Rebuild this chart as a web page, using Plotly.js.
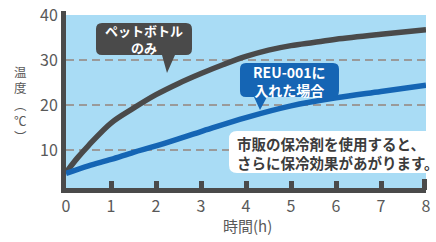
<!DOCTYPE html>
<html>
<head>
<meta charset="utf-8">
<script src="https://cdn.plot.ly/plotly-3.0.1.min.js"></script>
<style>html,body{margin:0;padding:0;background:#fff;}</style>
</head>
<body>
<div id="chart" style="width:436px;height:242px;"></div>
<script>
// ---- data ----
var hoursBottle = [0, 0.25, 0.5, 1, 1.5, 2, 2.5, 3, 3.5, 4, 4.5, 5, 5.5, 6, 7, 8];
var tempBottle  = [5, 8.2, 11, 16, 19.3, 22.3, 24.8, 27, 29, 30.8, 32.2, 33.2, 33.9, 34.6, 35.7, 36.7];
var hoursReu = [0, 0.5, 1, 1.5, 2, 3, 4, 5, 6, 7, 8];
var tempReu  = [4.8, 6.5, 7.9, 9.5, 10.9, 14.1, 17.2, 19.8, 21.6, 23, 24.4];
var xTicks = [0, 1, 2, 3, 4, 5, 6, 7, 8];
var yTicks = [10, 20, 30, 40];
var labelBottle = ['ペットボトル', 'のみ'];
var labelReu = ['REU-001に', '入れた場合'];
var noteLines = ['市販の保冷剤を使用すると、', 'さらに保冷効果があがります。'];
var yTitleChars = ['温', '度', '︵', '℃', '︶'];
var xTitle = '時間(h)';

// ---- layout helpers (pixel -> paper) ----
var L = 66, R = 10, T = 15, B = 54, W = 436, H = 242;
var PW = W - L - R, PH = H - T - B;
function px(x){ return (x - L) / PW; }
function py(y){ return (H - B - y) / PH; }
function P(x, y){ return px(x).toFixed(5) + ',' + py(y).toFixed(5); }
function callout(x0, y0, x1, y1, r, tx0, tx1, tipx, tipy){
  return 'M' + P(x0 + r, y0) + ' L' + P(x1 - r, y0) + ' Q' + P(x1, y0) + ' ' + P(x1, y0 + r) +
    ' L' + P(x1, y1 - r) + ' Q' + P(x1, y1) + ' ' + P(x1 - r, y1) +
    (tx1 !== null ? ' L' + P(tx1, y1) + ' L' + P(tipx, tipy) + ' L' + P(tx0, y1) : '') +
    ' L' + P(x0 + r, y1) + ' Q' + P(x0, y1) + ' ' + P(x0, y1 - r) +
    ' L' + P(x0, y0 + r) + ' Q' + P(x0, y0) + ' ' + P(x0 + r, y0) + ' Z';
}

var FONT = '"Noto Sans CJK JP", "Noto Sans", sans-serif';
var GRAY = '#4a4a4a', BLUE = '#1565b4', TXT = '#595959';

var traces = [
  {x: hoursBottle, y: tempBottle, type: 'scatter', mode: 'lines',
   line: {color: GRAY, width: 5.5, shape: 'spline'}, hoverinfo: 'skip'},
  {x: hoursReu, y: tempReu, type: 'scatter', mode: 'lines',
   line: {color: BLUE, width: 5.5, shape: 'spline'}, hoverinfo: 'skip'}
];

var shapes = [
  {type: 'path', xref: 'paper', yref: 'paper', layer: 'above',
   path: callout(96, 23, 192, 55, 6, 162, 175, 167, 73), fillcolor: GRAY, line: {width: 0}},
  {type: 'path', xref: 'paper', yref: 'paper', layer: 'above',
   path: callout(240, 63, 339, 97, 6, 254, 267, 260, 110), fillcolor: BLUE, line: {width: 0}},
  {type: 'path', xref: 'paper', yref: 'paper', layer: 'above',
   path: callout(229, 131, 434, 173, 8, null, null, 0, 0), fillcolor: '#ffffff', line: {width: 0}},
  // taller end cap of the time axis and top overshoot of the temperature axis
  {type: 'rect', xref: 'paper', yref: 'paper', layer: 'above',
   x0: px(422), x1: px(427), y0: py(190), y1: py(179), fillcolor: GRAY, line: {width: 0}},
  {type: 'rect', xref: 'paper', yref: 'paper', layer: 'above',
   x0: px(61), x1: px(66), y0: py(16), y1: py(11), fillcolor: GRAY, line: {width: 0}}
];

function ann(x, y, text, font, xa){
  return {xref: 'paper', yref: 'paper', x: px(x), y: py(y), xanchor: xa || 'center', yanchor: 'middle',
    align: xa === 'left' ? 'left' : 'center', showarrow: false, text: text, font: font};
}
var annotations = [
  ann(144, 39.5, '<b>' + labelBottle.join('<br>') + '</b>', {family: FONT, size: 13, color: '#ffffff'}),
  ann(289.5, 80.5, '<b>' + labelReu.join('<br>') + '</b>', {family: FONT, size: 14, color: '#ffffff'}),
  ann(235, 152.5, '<b>' + noteLines.join('<br>') + '</b>', {family: FONT, size: 14.5, color: '#3c3c3c'}, 'left'),
  ann(247, 225, xTitle, {family: FONT, size: 15, color: TXT}),
  ann(20, 103.5, yTitleChars.join('<br>'), {family: FONT, size: 12.5, color: TXT}),
  {xref: 'paper', yref: 'y', x: 0, y: 0, xanchor: 'right', yanchor: 'middle', xshift: -8, showarrow: false,
   text: '0', font: {family: FONT, size: 16, color: TXT}}
];

var layout = {
  width: W, height: H,
  margin: {l: L, r: R, t: T, b: B, pad: 0},
  paper_bgcolor: '#ffffff', plot_bgcolor: '#a9dcf5',
  showlegend: false,
  font: {family: FONT, color: TXT},
  xaxis: {range: [0, 8], tickvals: xTicks, ticktext: xTicks.map(String),
    showline: true, linewidth: 5, linecolor: GRAY, mirror: false,
    ticks: 'inside', ticklen: 7, tickwidth: 5, tickcolor: GRAY,
    showgrid: false, zeroline: false, fixedrange: true,
    tickfont: {family: FONT, size: 16, color: TXT}},
  yaxis: {range: [1.56, 40], tickvals: yTicks, ticktext: yTicks.map(String),
    showline: true, linewidth: 5, linecolor: GRAY,
    ticks: '', showgrid: true, gridcolor: '#9a9a9a', gridwidth: 2.5, griddash: '8px,5px',
    zeroline: false, fixedrange: true,
    tickfont: {family: FONT, size: 16, color: TXT}},
  shapes: shapes,
  annotations: annotations
};

Plotly.newPlot('chart', traces, layout, {displayModeBar: false, staticPlot: true});
</script>
</body>
</html>
